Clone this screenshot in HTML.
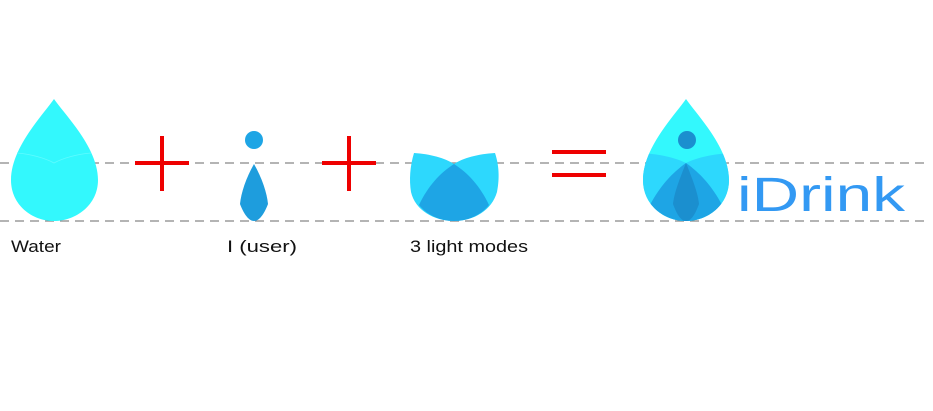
<!DOCTYPE html>
<html><head><meta charset="utf-8"><style>
html,body{margin:0;padding:0;background:#fff;width:933px;height:411px;overflow:hidden}
svg text{font-family:"Liberation Sans",sans-serif}
</style></head><body>
<svg width="933" height="411" viewBox="0 0 933 411">
<defs>
<clipPath id="dropclip"><path d="M686 99 C674 116,643 148,643 180 C643 205,664 221,686 221 C708 221,729 205,729 180 C729 148,698 116,686 99Z"/></clipPath>
</defs>
<g stroke="#888" stroke-width="1.3" stroke-dasharray="9 6">
<line x1="0" y1="163" x2="925" y2="163"/>
<line x1="0" y1="221" x2="925" y2="221"/>
</g>
<path fill="#33f8fd" d="M54 99 C42 116,11 148,11 180 C11 205,32 221,54 221 C76 221,98 205,98 180 C98 148,66 116,54 99Z"/>
<path d="M17 153 C30 154,45 158,54 163 C63 158,78 154,91 153" fill="none" stroke="#5ffbff" stroke-width="0.8"/>
<g stroke="#ee0000" stroke-width="4"><line x1="135" y1="163" x2="189" y2="163"/><line x1="162" y1="136" x2="162" y2="191"/></g>
<circle cx="254" cy="140" r="9" fill="#1ea5e5"/>
<path d="M254 164 C246 178,241 193,240 204 C243 212,248 221,254 221 C260 221,265 212,268 204 C267 193,262 178,254 164Z" fill="#1e9ddd"/>
<g stroke="#ee0000" stroke-width="4"><line x1="322" y1="163" x2="376" y2="163"/><line x1="349" y1="136" x2="349" y2="191"/></g>
<g>
<path fill="#2dd8fd" d="M414 153 C430 154,445 158,454 164 C463 158,478 154,495 153 C500 168,499 182,497 192 C492 210,474 221,454 221 C434 221,415 210,411 192 C409 180,410 166,414 153Z"/>
<path fill="#1ea5e5" d="M419 205 C428 186,440 173,454 164 C468 173,480 186,489 205 C481 215,468 221,454 221 C440 221,427 215,419 205Z"/>
</g>
<g stroke="#ee0000" stroke-width="4"><line x1="552" y1="152" x2="606" y2="152"/><line x1="552" y1="175" x2="606" y2="175"/></g>
<g clip-path="url(#dropclip)">
<rect x="640" y="95" width="95" height="130" fill="#33f8fd"/>
<path fill="#2dd8fd" d="M640 153 C660 154,676 158,686 163 C696 158,712 154,732 153 L732 225 L640 225Z"/>
<path fill="#1ea5e5" d="M650 205 C660 186,672 173,686 163 C700 173,712 186,722 205 L722 225 L650 225Z"/>
<path fill="#1b8fcf" d="M686 163 C680 178,674 193,673 204 C676 212,680 221,686 221 C692 221,696 212,699 204 C698 193,692 178,686 163Z"/>
<circle cx="687" cy="140" r="9" fill="#1b8fcf"/>
</g>
<text x="737" y="211" font-size="48" fill="#3399f3" textLength="168" lengthAdjust="spacingAndGlyphs">iDrink</text>
<text x="11" y="252" font-size="17" fill="#111" textLength="50" lengthAdjust="spacingAndGlyphs">Water</text>
<text x="227" y="252" font-size="17" fill="#111" textLength="70" lengthAdjust="spacingAndGlyphs">I (user)</text>
<text x="410" y="252" font-size="17" fill="#111" textLength="118" lengthAdjust="spacingAndGlyphs">3 light modes</text>
</svg>
</body></html>
